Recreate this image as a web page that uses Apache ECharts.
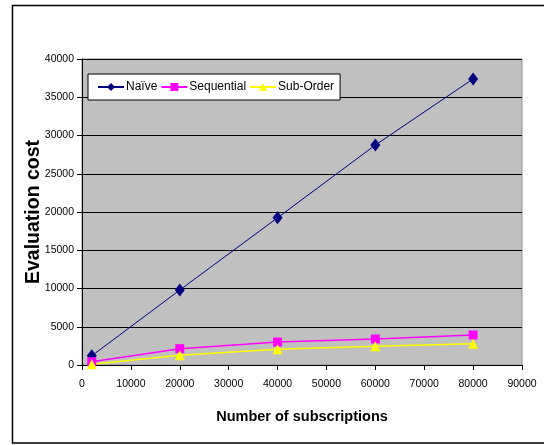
<!DOCTYPE html>
<html><head><meta charset="utf-8">
<script src="https://cdn.jsdelivr.net/npm/echarts@6/dist/echarts.min.js"></script>
<style>html,body{margin:0;padding:0;background:#fff}#c{width:544px;height:445px}</style>
</head><body><div id="c"></div>
<script>
const xValues = [2000, 20000, 40000, 60000, 80000];
const naive = [1200, 9800, 19250, 28750, 37400];
const sequential = [430, 2130, 3000, 3400, 3920];
const subOrder = [100, 1270, 2050, 2440, 2790];
const seriesNames = ['Naïve', 'Sequential', 'Sub-Order'];

const pair = arr => xValues.map((x, i) => [x, arr[i]]);
const font = 'Liberation Sans, Arial, sans-serif';
const chart = echarts.init(document.getElementById('c'));
chart.setOption({
  animation: false,
  backgroundColor: '#fff',
  graphic: [{
    type: 'rect', z: -1,
    shape: {x: 12.5, y: 5.5, width: 540, height: 437.5},
    style: {fill: 'none', stroke: '#000', lineWidth: 1.5}
  }],
  grid: {left: 82, top: 59, right: 22, bottom: 80, show: true,
    backgroundColor: '#c0c0c0', borderColor: '#909090', borderWidth: 1},
  legend: {
    left: 88, top: 74, orient: 'horizontal',
    backgroundColor: '#fff', borderColor: '#000', borderWidth: 1,
    padding: [7, 6, 7, 9], itemGap: 3, itemWidth: 26, itemHeight: 10,
    textStyle: {fontFamily: font, fontSize: 12, color: '#000', padding: [0, 0, 0, -3]},
    data: seriesNames
  },
  xAxis: {
    type: 'value', min: 0, max: 90000, interval: 10000,
    name: 'Number of subscriptions', nameLocation: 'middle', nameGap: 44,
    nameTextStyle: {fontFamily: font, fontSize: 14.5, fontWeight: 'bold', color: '#000'},
    axisLine: {show: true, lineStyle: {color: '#000', width: 1}},
    axisTick: {show: true, length: 5, lineStyle: {color: '#000'}},
    axisLabel: {fontFamily: font, fontSize: 10.5, color: '#000', margin: 14, formatter: v => String(v)},
    splitLine: {show: false}
  },
  yAxis: {
    type: 'value', min: 0, max: 40000, interval: 5000,
    name: 'Evaluation cost', nameLocation: 'middle', nameGap: 38, nameMoveOverlap: false,
    nameTextStyle: {fontFamily: font, fontSize: 19.5, fontWeight: 'bold', color: '#000'},
    axisLine: {show: true, lineStyle: {color: '#000', width: 1}},
    axisTick: {show: true, length: 5, lineStyle: {color: '#000'}},
    axisLabel: {fontFamily: font, fontSize: 10.5, color: '#000', margin: 8, formatter: v => String(v)},
    splitLine: {show: true, lineStyle: {color: '#000', width: 1}}
  },
  series: [
    {name: seriesNames[0], type: 'line', data: pair(naive), symbol: 'diamond', symbolSize: [10, 13],
      itemStyle: {color: '#000080'}, lineStyle: {color: '#000080', width: 1}},
    {name: seriesNames[1], type: 'line', data: pair(sequential), symbol: 'rect', symbolSize: 9,
      itemStyle: {color: '#ff00ff'}, lineStyle: {color: '#ff00ff', width: 1.5}},
    {name: seriesNames[2], type: 'line', data: pair(subOrder), symbol: 'triangle', symbolSize: 10,
      itemStyle: {color: '#ffff00'}, lineStyle: {color: '#ffff00', width: 1.5}}
  ]
});
</script></body></html>
